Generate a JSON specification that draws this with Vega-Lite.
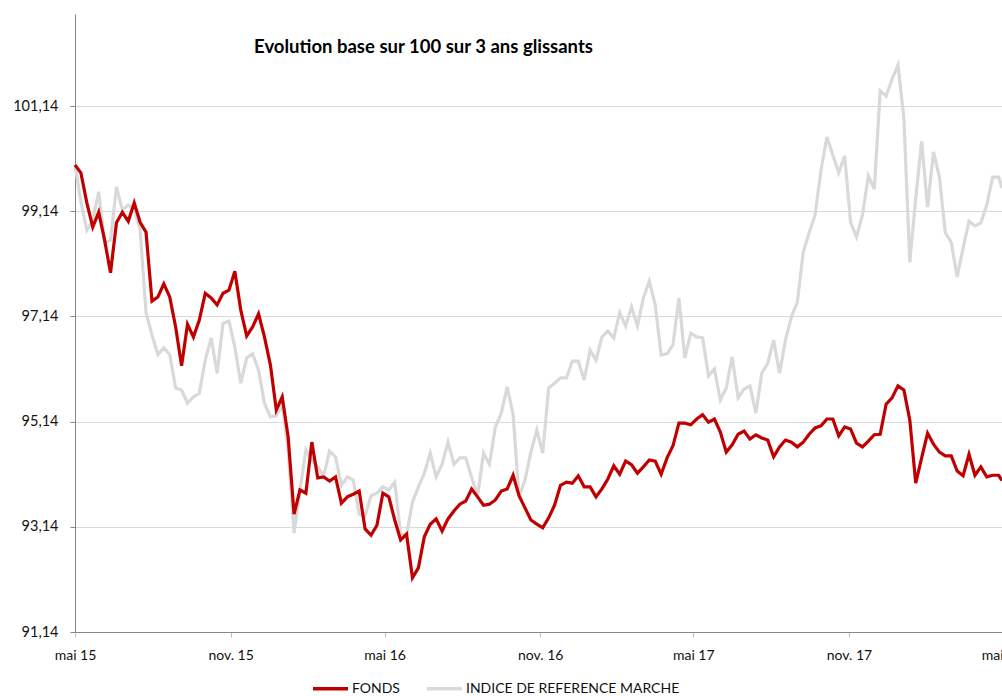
{
"$schema": "https://vega.github.io/schema/vega-lite/v6.json",
"width": 927, "height": 618,
"autosize": {"type": "none"},
"padding": {"left": 75, "top": 14, "right": 0, "bottom": 64},
"background": "white",
"title": {"text": "Evolution base sur 100 sur 3 ans glissants", "anchor": "middle", "dx": -115, "dy": 42, "offset": 0, "font": "Lato", "fontSize": 18.5, "fontWeight": "bold", "color": "#000000"},
"data": {"values": [
{"d":"2015-05-01","f":100.02,"i":100.02},
{"d":"2015-05-08","f":99.87,"i":99.32},
{"d":"2015-05-15","f":99.30,"i":98.78},
{"d":"2015-05-22","f":98.84,"i":98.97},
{"d":"2015-05-29","f":99.12,"i":99.51},
{"d":"2015-06-05","f":98.59,"i":98.55},
{"d":"2015-06-12","f":97.97,"i":98.59},
{"d":"2015-06-19","f":98.92,"i":99.60},
{"d":"2015-06-26","f":99.12,"i":99.16},
{"d":"2015-07-03","f":98.95,"i":99.26},
{"d":"2015-07-10","f":99.30,"i":99.18},
{"d":"2015-07-17","f":98.93,"i":98.78},
{"d":"2015-07-24","f":98.74,"i":97.21},
{"d":"2015-07-31","f":97.43,"i":96.79},
{"d":"2015-08-07","f":97.51,"i":96.41},
{"d":"2015-08-14","f":97.76,"i":96.54},
{"d":"2015-08-21","f":97.51,"i":96.41},
{"d":"2015-08-28","f":96.94,"i":95.78},
{"d":"2015-09-04","f":96.20,"i":95.74},
{"d":"2015-09-11","f":96.99,"i":95.49},
{"d":"2015-09-18","f":96.75,"i":95.61},
{"d":"2015-09-25","f":97.07,"i":95.68},
{"d":"2015-10-02","f":97.58,"i":96.31},
{"d":"2015-10-09","f":97.49,"i":96.73},
{"d":"2015-10-16","f":97.36,"i":96.06},
{"d":"2015-10-23","f":97.58,"i":97.01},
{"d":"2015-10-30","f":97.64,"i":97.05},
{"d":"2015-11-06","f":98.00,"i":96.56},
{"d":"2015-11-13","f":97.26,"i":95.87},
{"d":"2015-11-20","f":96.77,"i":96.35},
{"d":"2015-11-27","f":96.94,"i":96.43},
{"d":"2015-12-04","f":97.19,"i":96.12},
{"d":"2015-12-11","f":96.75,"i":95.49},
{"d":"2015-12-18","f":96.22,"i":95.23},
{"d":"2015-12-25","f":95.36,"i":95.25},
{"d":"2016-01-01","f":95.61,"i":95.46},
{"d":"2016-01-08","f":94.85,"i":94.60},
{"d":"2016-01-15","f":93.38,"i":93.02},
{"d":"2016-01-22","f":93.84,"i":93.84},
{"d":"2016-01-29","f":93.78,"i":94.60},
{"d":"2016-02-05","f":94.75,"i":94.41},
{"d":"2016-02-12","f":94.07,"i":94.28},
{"d":"2016-02-19","f":94.09,"i":94.11},
{"d":"2016-02-26","f":94.01,"i":94.58},
{"d":"2016-03-04","f":94.09,"i":94.47},
{"d":"2016-03-11","f":93.59,"i":93.93},
{"d":"2016-03-18","f":93.71,"i":94.09},
{"d":"2016-03-25","f":93.76,"i":94.03},
{"d":"2016-04-01","f":93.82,"i":93.38},
{"d":"2016-04-08","f":93.10,"i":93.35},
{"d":"2016-04-15","f":92.98,"i":93.73},
{"d":"2016-04-22","f":93.17,"i":93.78},
{"d":"2016-04-29","f":93.78,"i":93.90},
{"d":"2016-05-06","f":93.71,"i":93.84},
{"d":"2016-05-13","f":93.27,"i":93.99},
{"d":"2016-05-20","f":92.89,"i":93.00},
{"d":"2016-05-27","f":93.00,"i":92.98},
{"d":"2016-06-03","f":92.17,"i":93.61},
{"d":"2016-06-10","f":92.36,"i":93.90},
{"d":"2016-06-17","f":92.95,"i":94.16},
{"d":"2016-06-24","f":93.19,"i":94.54},
{"d":"2016-07-01","f":93.29,"i":94.09},
{"d":"2016-07-08","f":93.06,"i":94.33},
{"d":"2016-07-15","f":93.29,"i":94.75},
{"d":"2016-07-22","f":93.44,"i":94.33},
{"d":"2016-07-29","f":93.57,"i":94.45},
{"d":"2016-08-05","f":93.63,"i":94.45},
{"d":"2016-08-12","f":93.86,"i":94.07},
{"d":"2016-08-19","f":93.71,"i":93.73},
{"d":"2016-08-26","f":93.55,"i":94.54},
{"d":"2016-09-02","f":93.57,"i":94.33},
{"d":"2016-09-09","f":93.65,"i":95.04},
{"d":"2016-09-16","f":93.82,"i":95.30},
{"d":"2016-09-23","f":93.86,"i":95.80},
{"d":"2016-09-30","f":94.12,"i":95.27},
{"d":"2016-10-07","f":93.73,"i":93.71},
{"d":"2016-10-14","f":93.50,"i":94.03},
{"d":"2016-10-21","f":93.27,"i":94.56},
{"d":"2016-10-28","f":93.19,"i":94.98},
{"d":"2016-11-04","f":93.12,"i":94.54},
{"d":"2016-11-11","f":93.31,"i":95.78},
{"d":"2016-11-18","f":93.55,"i":95.87},
{"d":"2016-11-25","f":93.93,"i":95.97},
{"d":"2016-12-02","f":93.99,"i":95.97},
{"d":"2016-12-09","f":93.97,"i":96.29},
{"d":"2016-12-16","f":94.11,"i":96.29},
{"d":"2016-12-23","f":93.90,"i":95.93},
{"d":"2016-12-30","f":93.90,"i":96.50},
{"d":"2017-01-06","f":93.71,"i":96.31},
{"d":"2017-01-13","f":93.86,"i":96.75},
{"d":"2017-01-20","f":94.05,"i":96.86},
{"d":"2017-01-27","f":94.30,"i":96.73},
{"d":"2017-02-03","f":94.14,"i":97.21},
{"d":"2017-02-10","f":94.39,"i":96.96},
{"d":"2017-02-17","f":94.32,"i":97.32},
{"d":"2017-02-24","f":94.16,"i":96.96},
{"d":"2017-03-03","f":94.28,"i":97.49},
{"d":"2017-03-10","f":94.41,"i":97.81},
{"d":"2017-03-17","f":94.39,"i":97.36},
{"d":"2017-03-24","f":94.14,"i":96.41},
{"d":"2017-03-31","f":94.45,"i":96.43},
{"d":"2017-04-07","f":94.68,"i":96.60},
{"d":"2017-04-14","f":95.11,"i":97.49},
{"d":"2017-04-21","f":95.11,"i":96.35},
{"d":"2017-04-28","f":95.08,"i":96.82},
{"d":"2017-05-05","f":95.19,"i":96.75},
{"d":"2017-05-12","f":95.27,"i":96.73},
{"d":"2017-05-19","f":95.13,"i":96.01},
{"d":"2017-05-26","f":95.19,"i":96.14},
{"d":"2017-06-02","f":94.94,"i":95.55},
{"d":"2017-06-09","f":94.56,"i":95.78},
{"d":"2017-06-16","f":94.70,"i":96.37},
{"d":"2017-06-23","f":94.90,"i":95.59},
{"d":"2017-06-30","f":94.96,"i":95.76},
{"d":"2017-07-07","f":94.81,"i":95.82},
{"d":"2017-07-14","f":94.89,"i":95.30},
{"d":"2017-07-21","f":94.83,"i":96.06},
{"d":"2017-07-28","f":94.79,"i":96.25},
{"d":"2017-08-04","f":94.47,"i":96.69},
{"d":"2017-08-11","f":94.66,"i":96.06},
{"d":"2017-08-18","f":94.79,"i":96.69},
{"d":"2017-08-25","f":94.75,"i":97.13},
{"d":"2017-09-01","f":94.66,"i":97.41},
{"d":"2017-09-08","f":94.75,"i":98.36},
{"d":"2017-09-15","f":94.90,"i":98.73},
{"d":"2017-09-22","f":95.02,"i":99.07},
{"d":"2017-09-29","f":95.06,"i":99.92},
{"d":"2017-10-06","f":95.19,"i":100.55},
{"d":"2017-10-13","f":95.19,"i":100.21},
{"d":"2017-10-20","f":94.87,"i":99.87},
{"d":"2017-10-27","f":95.04,"i":100.19},
{"d":"2017-11-03","f":95.00,"i":98.93},
{"d":"2017-11-10","f":94.73,"i":98.65},
{"d":"2017-11-17","f":94.66,"i":99.07},
{"d":"2017-11-24","f":94.77,"i":99.81},
{"d":"2017-12-01","f":94.89,"i":99.56},
{"d":"2017-12-08","f":94.90,"i":101.43},
{"d":"2017-12-15","f":95.47,"i":101.33},
{"d":"2017-12-22","f":95.59,"i":101.65},
{"d":"2017-12-29","f":95.82,"i":101.92},
{"d":"2018-01-05","f":95.74,"i":100.91},
{"d":"2018-01-12","f":95.17,"i":98.17},
{"d":"2018-01-19","f":93.97,"i":99.39},
{"d":"2018-01-26","f":94.45,"i":100.47},
{"d":"2018-02-02","f":94.92,"i":99.22},
{"d":"2018-02-09","f":94.71,"i":100.27},
{"d":"2018-02-16","f":94.56,"i":99.79},
{"d":"2018-02-23","f":94.49,"i":98.73},
{"d":"2018-03-02","f":94.49,"i":98.55},
{"d":"2018-03-09","f":94.20,"i":97.89},
{"d":"2018-03-16","f":94.11,"i":98.44},
{"d":"2018-03-23","f":94.52,"i":98.95},
{"d":"2018-03-30","f":94.12,"i":98.86},
{"d":"2018-04-06","f":94.28,"i":98.92},
{"d":"2018-04-13","f":94.09,"i":99.26},
{"d":"2018-04-20","f":94.12,"i":99.79},
{"d":"2018-04-27","f":94.12,"i":99.79},
{"d":"2018-05-01","f":94.02,"i":99.58}
]},
"encoding": {
  "x": {"field": "d", "type": "temporal",
    "scale": {"type": "utc", "domain": [{"year": 2015, "month": 5, "date": 1, "utc": true}, {"year": 2018, "month": 5, "date": 1, "utc": true}]},
    "axis": {"title": null, "grid": false,
      "values": [{"year": 2015, "month": 5, "date": 1, "utc": true}, {"year": 2015, "month": 11, "date": 1, "utc": true}, {"year": 2016, "month": 5, "date": 1, "utc": true}, {"year": 2016, "month": 11, "date": 1, "utc": true}, {"year": 2017, "month": 5, "date": 1, "utc": true}, {"year": 2017, "month": 11, "date": 1, "utc": true}, {"year": 2018, "month": 5, "date": 1, "utc": true}],
      "labelExpr": "(utcmonth(datum.value) == 4 ? 'mai ' : 'nov. ') + utcFormat(datum.value, '%y')",
      "domainColor": "#868686", "tickColor": "#bfbfbf", "tickSize": 5, "labelPadding": 11,
      "labelFont": "Lato", "labelFontSize": 14, "labelColor": "#111111", "labelFlush": false, "labelOverlap": false}
  },
  "color": {"scale": {"domain": ["FONDS", "INDICE DE REFERENCE MARCHE"], "range": ["#C00000", "#D9D9D9"]},
    "legend": {"title": null, "orient": "none", "legendX": 236, "legendY": 655, "direction": "horizontal",
      "symbolType": "stroke", "symbolStrokeWidth": 3.5, "symbolSize": 1225, "labelOffset": 2, "columnPadding": 20, "labelLimit": 500,
      "labelFont": "Lato", "labelFontSize": 14, "labelColor": "#111111"}}
},
"layer": [
  {"mark": {"type": "line", "strokeWidth": 3.2}, "encoding": {
    "y": {"field": "i", "type": "quantitative",
      "scale": {"domain": [91.14, 102.89], "nice": false, "zero": false},
      "axis": {"title": null, "values": [91.14, 93.14, 95.14, 97.14, 99.14, 101.14],
        "labelExpr": "replace(format(datum.value, '.2f'), '.', ',')",
        "grid": true, "gridColor": "#d9d9d9", "gridWidth": 1,
        "domainColor": "#868686", "tickColor": "#868686", "tickSize": 5, "labelPadding": 12,
        "labelFont": "Lato", "labelFontSize": 14.5, "labelColor": "#111111"}},
    "color": {"datum": "INDICE DE REFERENCE MARCHE"}}},
  {"mark": {"type": "line", "strokeWidth": 3.2}, "encoding": {
    "y": {"field": "f", "type": "quantitative"},
    "color": {"datum": "FONDS"}}}
],
"config": {"view": {"stroke": null}, "axis": {"domainWidth": 1}}
}
